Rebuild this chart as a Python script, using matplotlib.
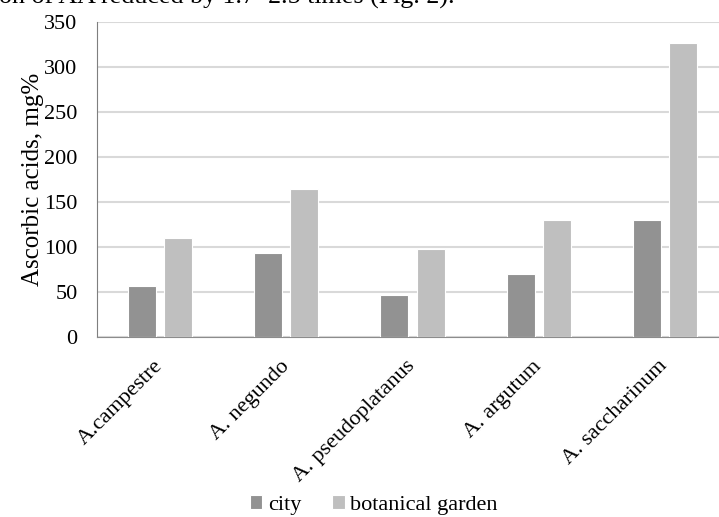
import numpy as np
import matplotlib.pyplot as plt

plt.rcParams['font.family'] = ['Liberation Serif', 'DejaVu Serif']

# data
species = ['A.campestre', 'A. negundo', 'A. pseudoplatanus', 'A. argutum', 'A. saccharinum']
city = [57, 93, 47, 70, 130]
garden = [110, 164, 98, 130, 327]

fig = plt.figure(figsize=(7.19, 5.17), dpi=100)
# axes reach past the right edge, as the original is cropped there
ax = fig.add_axes([97 / 719, (517 - 337) / 517, 631 / 719, 315 / 517])

x = np.arange(len(species))
w = 0.222
ax.bar(x - 0.143, city, width=w, color='#929292', edgecolor='white', linewidth=0.8,
       label='city', zorder=3)
ax.bar(x + 0.143, garden, width=w, color='#bfbfbf', edgecolor='white', linewidth=0.8,
       label='botanical garden', zorder=3)

ax.set_xlim(-0.5, len(species) - 0.5)
ax.set_ylim(0, 350)
ax.set_yticks(range(0, 351, 50))
ax.yaxis.grid(True, color='#d9d9d9', linewidth=1.5, zorder=0)
ax.tick_params(axis='y', length=0, pad=14, labelsize=16)
ax.tick_params(axis='x', length=0, pad=19, labelsize=16)

ax.set_xticks(x)
ax.set_xticklabels(species, rotation=45, ha='right', va='center', rotation_mode='anchor')

for side in ['top', 'right']:
    ax.spines[side].set_visible(False)
ax.spines['left'].set_color('#7f7f7f')
ax.spines['bottom'].set_color('#8c8c8c')

ax.set_ylabel('Ascorbic acids, mg%', fontsize=18, labelpad=0)

fig.legend(loc='center', bbox_to_anchor=(374 / 719, 1 - 505 / 517), ncol=2, frameon=False,
           fontsize=16, handlelength=0.55, handleheight=0.55, handletextpad=0.25,
           columnspacing=1.4, borderpad=0)

# cropped line of body text above the chart
fig.text(-0.002, 1 - 4 / 517, 'on of AA reduced by 1.7\u20132.5 times (Fig. 2).', fontsize=18.7,
         ha='left', va='baseline')

fig.savefig('out.png', dpi=100)
